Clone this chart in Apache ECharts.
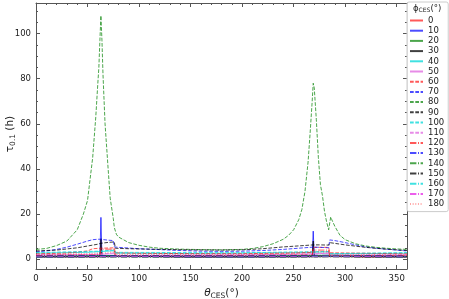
<!DOCTYPE html>
<html><head><meta charset="utf-8">
<script src="https://cdn.jsdelivr.net/npm/echarts@6/dist/echarts.min.js"></script>
<style>html,body{margin:0;padding:0;background:#fff}#c{width:449px;height:299px}</style>
</head><body><div id="c"></div>
<script>
// phi_CES values (legend) and tick labels
const phiNames = ['0','10','20','30','40','50','60','70','80','90','100','110','120','130','140','150','160','170','180'];
const xTicks = [0,50,100,150,200,250,300,350];
const yTicks = [0,20,40,60,80,100];

// theta_CES (deg) and tau_0.1 (h) for each phi_CES
const th0 = [0,60,63,64,76,77,150,200,250,268,269,270,284,285,320,360];
const tau0 = [1.0,1.1,1.1,1.3,1.4,0.8,0.9,1.0,1.1,1.2,1.2,1.4,1.5,0.8,0.9,1.0];
const th10 = [0,40,62,63,64,76,77,150,200,250,268,269,270,284,285,360];
const tau10 = [1.1,1.2,1.3,18.5,1.4,1.4,1.0,1.0,1.1,1.2,1.3,12.4,1.4,1.4,1.0,1.1];
const th20 = [0,76,77,200,284,285,360];
const tau20 = [1.3,1.6,1.1,1.3,1.7,1.1,1.3];
const th30 = [0,62,63,64,76,77,200,268,269,270,284,285,360];
const tau30 = [0.9,1.0,9.0,1.0,1.1,0.7,0.9,1.0,8.0,1.0,1.1,0.7,0.9];
const th40 = [0,50,76,77,150,250,284,285,360];
const tau40 = [2.6,3.0,3.7,2.6,2.5,2.8,3.2,2.3,2.6];
const th50 = [0,60,76,77,200,284,285,360];
const tau50 = [1.8,2.0,2.4,1.5,1.8,2.5,1.6,1.8];
const th60 = [0,30,50,55,62,63,76,77,100,150,200,250,268,269,284,285,320,360];
const tau60 = [2.3,2.7,3.6,4.6,4.8,5.0,5.0,2.8,2.6,2.4,2.4,2.7,2.9,5.2,5.2,2.8,2.6,2.3];
const th70 = [0,10,20,30,40,50,55,60,63,66,70,75,76,80,90,100,120,140,160,180,200,220,240,260,269,276,284,285,290,300,310,320,330,340,360];
const tau70 = [3.2,3.6,4.3,5.3,6.6,8.0,8.6,8.8,8.8,8.6,8.4,8.2,5.4,5.2,4.9,4.6,4.2,3.8,3.5,3.4,3.5,3.8,4.3,5.0,5.3,5.2,5.0,8.5,8.2,7.3,6.3,5.4,4.8,4.4,3.6];
const th80 = [0,10,20,30,40,46,50,55,58,60,61,62,63,64,65,67,70,72,74,75,76,78,80,90,100,110,120,140,160,180,200,210,220,230,240,245,250,255,258,261,264,266,268,269,270,272,274,276,278,280,282,284,285,286,287,290,295,300,310,320,330,340,350,360];
const tau80 = [4.3,4.7,6.0,8.0,13,20,26,45,63,78,85,97,108,97,82,60,40,27,21,18,14,11,9.8,7.3,6.1,5.3,4.8,4.4,4.2,4.1,4.3,4.7,5.5,6.8,8.8,10.5,13,17.5,22,30,43,56,70,78,76,62,45,33,28,21,16.5,13,16,18.7,17.5,14.5,10.5,8.6,6.8,5.8,5.2,4.8,4.5,4.3];
const th90 = [0,20,40,50,60,63,70,76,77,90,120,150,180,200,220,240,260,269,275,284,285,300,320,340,360];
const tau90 = [3.6,4.0,5.0,5.8,6.6,7.0,7.4,7.6,4.8,4.6,4.3,4.1,4.0,4.1,4.6,5.4,6.0,6.3,6.3,6.2,7.3,6.3,5.2,4.4,3.8];
const th100 = [0,60,76,77,200,284,285,360];
const tau100 = [2.9,3.5,4.0,3.0,2.8,3.4,2.4,2.9];
const th110 = [0,62,63,76,77,200,268,269,284,285,360];
const tau110 = [1.9,2.2,2.6,2.7,1.7,1.9,2.1,2.6,2.8,1.7,1.9];
const th120 = [0,62,63,76,77,200,268,269,284,285,360];
const tau120 = [1.6,1.8,4.4,4.4,1.4,1.6,1.8,4.0,4.0,1.4,1.6];
const th130 = [0,76,77,200,284,285,360];
const tau130 = [1.4,1.6,1.1,1.4,1.7,1.1,1.4];
const th140 = [0,76,77,200,284,285,360];
const tau140 = [1.2,1.4,0.9,1.2,1.5,0.9,1.2];
const th150 = [0,76,77,200,284,285,360];
const tau150 = [0.8,0.9,0.6,0.8,1.0,0.6,0.8];
const th160 = [0,76,77,200,284,285,360];
const tau160 = [0.9,1.1,0.7,0.9,1.2,0.7,0.9];
const th170 = [0,76,77,200,284,285,360];
const tau170 = [1.0,1.2,0.7,1.0,1.3,0.7,1.0];
const th180 = [0,60,76,77,200,284,285,360];
const tau180 = [2.0,2.5,3.1,2.0,2.0,3.3,2.0,2.0];

const thetas = [th0,th10,th20,th30,th40,th50,th60,th70,th80,th90,th100,th110,th120,th130,th140,th150,th160,th170,th180];
const taus = [tau0,tau10,tau20,tau30,tau40,tau50,tau60,tau70,tau80,tau90,tau100,tau110,tau120,tau130,tau140,tau150,tau160,tau170,tau180];

const colors = ['rgba(255,0,0,0.65)','rgba(0,0,255,0.7)','rgba(0,128,0,0.7)','rgba(0,0,0,0.75)','rgba(0,215,215,0.75)','rgba(225,110,225,0.8)'];
const DASH = [3.7,1.6], DASHDOT = [6.4,1.6,1,1.6], DOT = [1,1.65];

const series = phiNames.map((n,i)=>{
  let color, type, width = 1;
  if (i === 18) { color = 'rgba(255,60,60,0.45)'; type = DOT; width = 1.8; }
  else {
    color = colors[i % 6];
    type = i < 6 ? 'solid' : (i < 12 ? DASH : DASHDOT);
    if (i === 17) color = 'rgba(230,40,230,0.75)';
  }
  return {
    name: n, type: 'line', symbol: 'none', showSymbol: false,
    xAxisIndex: 0, yAxisIndex: 0,
    lineStyle: {color, type, width}, itemStyle: {color, opacity: 0},
    data: thetas[i].map((t,k)=>[t, taus[i][k]]),
    animation: false
  };
});

const axisCol = '#555';
const lab = {fontFamily:'DejaVu Sans', fontSize: 8.5, color:'#222'};
const YMIN = -4.4, YMAX = 113.6;
const minorY = [5,10,15,25,30,35,45,50,55,65,70,75,85,90,95,105,110];
const minorX = [10,20,30,40,60,70,80,90,110,120,130,140,160,170,180,190,210,220,230,240,260,270,280,290,310,320,330,340];

function xa(g, pos, major, showLabel){
  return {
    type:'value', min:0, max:360, position:pos, gridIndex:g,
    axisLine:{show:major, onZero:false, lineStyle:{color:axisCol, width:1}},
    axisTick:{show:true, inside:true, length: major?4:2, customValues: major?xTicks:minorX, lineStyle:{color:axisCol}},
    axisLabel:{show:showLabel, customValues:xTicks, margin:5, ...lab},
    splitLine:{show:false},
    name: showLabel ? '{i|θ}{s|CES}{t|(°)}' : '',
    nameLocation:'middle', nameGap:15,
    nameTextStyle:{rich:{i:{fontFamily:'DejaVu Sans',fontStyle:'italic',fontSize:10.5,color:'#222'},s:{fontFamily:'DejaVu Sans',fontSize:7.5,color:'#222',padding:[6,0,0,0]},t:{fontFamily:'DejaVu Sans',fontSize:10.5,color:'#222'}}}
  };
}
function ya(g, pos, major, showLabel){
  return {
    type:'value', min:YMIN, max:YMAX, position:pos, gridIndex:g,
    axisLine:{show:major, onZero:false, lineStyle:{color:axisCol, width:1}},
    axisTick:{show:true, inside:true, length: major?4:2, customValues: major?yTicks:minorY, lineStyle:{color:axisCol}},
    axisLabel:{show:showLabel, customValues:yTicks, margin:5, ...lab},
    splitLine:{show:false}
  };
}

const G = {left:36, right:42, top:3, bottom:30, containLabel:false, outerBoundsMode:'none'};
const chart = echarts.init(document.getElementById('c'), null, {renderer:'canvas'});
chart.setOption({
  animation:false,
  backgroundColor:'#fff',
  grid:[G,G,G,G],
  xAxis:[xa(0,'bottom',true,true), xa(1,'top',true,false), xa(2,'bottom',false,false), xa(3,'top',false,false)],
  yAxis:[ya(0,'left',true,true), ya(1,'right',true,false), ya(2,'left',false,false), ya(3,'right',false,false)],
  legend:{
    data: phiNames, orient:'vertical', left:407, top:2,
    padding:[14,4,3,2], itemGap:1.2, itemWidth:13, itemHeight:8,
    itemStyle:{opacity:0},
    textStyle:{fontFamily:'DejaVu Sans', fontSize:8.5, color:'#222'},
    backgroundColor:'rgba(255,255,255,0.85)', borderColor:'#ccc', borderWidth:1, borderRadius:2
  },
  graphic:[{
    type:'text', left:413, top:4, z:100,
    style:{text:'{t|ϕ}{s|CES}{t|(°)}', rich:{t:{fontFamily:'DejaVu Sans',fontSize:8.5,fill:'#222'},s:{fontFamily:'DejaVu Sans',fontSize:6,fill:'#222',padding:[4,0,0,0]}}}
  },{
    type:'text', x:10, y:134, rotation:Math.PI/2, z:100,
    style:{text:'{t|τ}{s|0.1}{t| (h)}', align:'center', verticalAlign:'middle',
      rich:{t:{fontFamily:'DejaVu Sans',fontSize:10.5,fill:'#222'},s:{fontFamily:'DejaVu Sans',fontSize:7.5,fill:'#222',padding:[6,0,0,0]}}}
  }],
  series
});
</script></body></html>
